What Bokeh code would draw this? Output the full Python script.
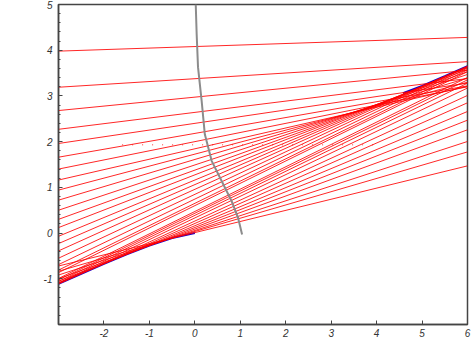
from bokeh.plotting import figure
from bokeh.models import FixedTicker
from bokeh.embed import file_html
from bokeh.resources import INLINE

# red lines: value at the left edge x=-3 and at the right edge x=6
x_left, x_right = -3.0, 6.0
# upper fan
upper_left = [3.98, 3.19, 2.68, 2.27, 1.96, 1.66, 1.40]
upper_right = [4.28, 3.75, 3.56, 3.38, 3.28, 3.22, 3.20]
# lines touching the right (upper) caustic
rcaus_left = [1.16, 0.94, 0.72, 0.50, 0.30, 0.12, -0.07, -0.23, -0.39, -0.55, -0.69, -0.81, -0.865]
rcaus_right = [3.21, 3.30, 3.39, 3.47, 3.53, 3.58, 3.62, 3.64, 3.65, 3.64, 3.61, 3.57, 3.53]
# lines touching the left (lower) caustic
lcaus_left = [-0.72, -0.835, -0.918, -0.999, -1.053, -1.089, -1.110, -1.111, -1.090, -1.059, -1.026, -0.994]
lcaus_right = [1.47, 1.775, 2.004, 2.259, 2.470, 2.660, 2.850, 3.011, 3.173, 3.279, 3.352, 3.405]

line_left = upper_left + rcaus_left + lcaus_left
line_right = upper_right + rcaus_right + lcaus_right

# blue caustic pieces
blue_left_x = [-3.0, -2.5, -2.0, -1.5, -1.0, -0.5, 0.0]
blue_left_y = [-1.113, -0.89, -0.674, -0.467, -0.275, -0.11, 0.0]
blue_right_x = [4.58, 5.0, 5.5, 6.0]
blue_right_y = [3.06, 3.22, 3.43, 3.65]

# gray curve
gray_x = [0.02, 0.04, 0.07, 0.15, 0.22, 0.37, 0.59, 0.81, 0.95, 1.04]
gray_y = [5.0, 4.36, 3.63, 2.89, 2.16, 1.58, 1.14, 0.70, 0.34, -0.03]

# faint dotted red trace
dot_x = [-1.6, 4.0]
dot_y = [1.93, 1.93]

p = figure(width=474, height=339, x_range=(-3, 6), y_range=(-2, 5),
           output_backend="svg", toolbar_location=None,
           min_border_left=58, min_border_right=7, min_border_top=4, min_border_bottom=0)
p.grid.visible = False
p.outline_line_color = "#444444"
p.outline_line_width = 1.5
p.background_fill_color = "white"
p.border_fill_color = "white"

p.line(blue_left_x, blue_left_y, color="#1a00c8", line_width=2)
p.line(blue_right_x, blue_right_y, color="#1a00c8", line_width=2)
p.multi_line([[x_left, x_right] for _ in line_left],
             [[a, b] for a, b in zip(line_left, line_right)],
             color="#ff0000", line_width=1, line_alpha=0.85)
p.line(dot_x, dot_y, color="#ff0000", line_width=1, line_dash="1 9", line_alpha=0.8)
p.line(gray_x, gray_y, color="#8c8c8c", line_width=2)

for ax in (p.xaxis[0], p.yaxis[0]):
    ax.axis_line_color = "#444444"
    ax.axis_line_width = 1.5
    ax.major_tick_in = 4
    ax.major_tick_out = 0
    ax.minor_tick_in = 2
    ax.minor_tick_out = 0
    ax.major_tick_line_color = "#444444"
    ax.minor_tick_line_color = "#444444"
    ax.major_label_text_font = "Liberation Sans"
    ax.major_label_text_font_style = "italic"
    ax.major_label_text_font_size = "10px"
    ax.major_label_text_color = "#333333"

p.xaxis.ticker = FixedTicker(ticks=[-2, -1, 0, 1, 2, 3, 4, 5, 6])
p.xaxis.minor_tick_line_color = None
p.xaxis.major_label_standoff = 4
p.yaxis.ticker = FixedTicker(ticks=[-1, 0, 1, 2, 3, 4, 5],
                             minor_ticks=[round(-2 + 0.2 * i, 1) for i in range(36)])
p.yaxis.major_label_standoff = 6
p.xaxis.major_label_overrides = {-2: "-2", -1: "-1"}
p.yaxis.major_label_overrides = {-1: "-1"}

open("out.html", "w").write(file_html(p, INLINE))
